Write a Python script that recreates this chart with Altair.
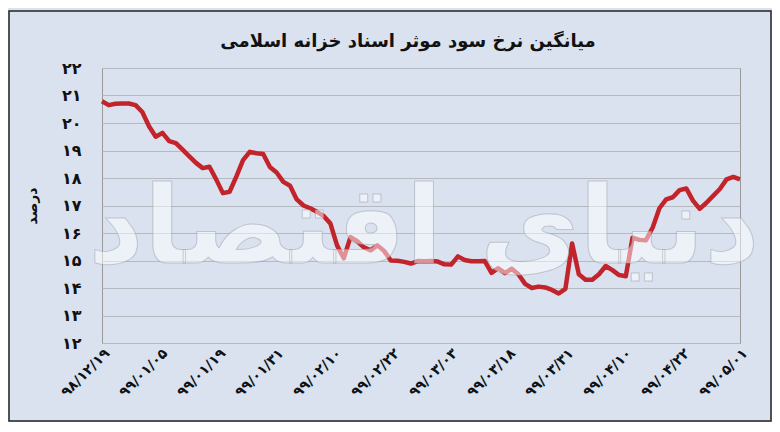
import altair as alt
import pandas as pd

title_text = "میانگین نرخ سود موثر اسناد خزانه اسلامی"
y_title = "درصد"
x_labels = ["۹۸/۱۲/۱۹", "۹۹/۰۱/۰۵", "۹۹/۰۱/۱۹", "۹۹/۰۱/۳۱", "۹۹/۰۲/۱۰", "۹۹/۰۲/۲۲",
            "۹۹/۰۳/۰۳", "۹۹/۰۳/۱۸", "۹۹/۰۳/۳۱", "۹۹/۰۴/۱۰", "۹۹/۰۴/۲۲", "۹۹/۰۵/۰۱"]
y_labels = ["۱۲", "۱۳", "۱۴", "۱۵", "۱۶", "۱۷", "۱۸", "۱۹", "۲۰", "۲۱", "۲۲"]
watermark = "دنیای اقتصاد"

rates = [
    20.79, 20.65, 20.70, 20.71, 20.71, 20.65, 20.40, 19.88, 19.50, 19.64,
    19.34, 19.27, 19.03, 18.79, 18.55, 18.36, 18.41, 17.95, 17.45, 17.50,
    18.05, 18.65, 18.95, 18.90, 18.87, 18.40, 18.20, 17.86, 17.72, 17.22,
    17.00, 16.90, 16.77, 16.62, 16.35, 15.55, 15.08, 15.85, 15.70, 15.48,
    15.37, 15.55, 15.35, 15.00, 14.99, 14.95, 14.89, 14.98, 14.97, 14.98,
    14.96, 14.86, 14.85, 15.15, 15.02, 14.97, 14.97, 14.98, 14.55, 14.72,
    14.54, 14.70, 14.50, 14.15, 14.00, 14.05, 14.02, 13.93, 13.80, 13.97,
    15.62, 14.50, 14.30, 14.30, 14.50, 14.80, 14.65, 14.47, 14.43, 15.83,
    15.75, 15.74, 16.20, 16.90, 17.22, 17.30, 17.56, 17.62, 17.18, 16.88,
    17.10, 17.35, 17.60, 17.95, 18.04, 17.95,
]

n = len(rates)
df = pd.DataFrame({"i": list(range(n)), "v": rates})
last = n - 1
step = last / (len(x_labels) - 1)
x_ticks = [k * step for k in range(len(x_labels))]
x_label_expr = "[" + ",".join("'%s'" % s for s in x_labels) + "][round(datum.value / %f)]" % step
y_label_expr = "[" + ",".join("'%s'" % s for s in y_labels) + "][round(datum.value) - 12]"

FONT = "DejaVu Sans"
W, H = 638, 275
PL, PT, PR, PB = 94, 60, 32, 79

x_enc = alt.X("i:Q", scale=alt.Scale(domain=[0, last], nice=False, zero=False),
              axis=alt.Axis(values=x_ticks, labelExpr=x_label_expr, labelAngle=-45,
                            labelAlign="right", labelBaseline="top", grid=False, ticks=False,
                            domain=False, title=None, labelFontSize=14, labelFontWeight="bold",
                            labelFont=FONT, labelColor="#111", labelPadding=3, labelBound=False,
                            labelOverlap=False, labelFlush=False))
y_enc = alt.Y("v:Q", scale=alt.Scale(domain=[12, 22], nice=False, zero=False),
              axis=alt.Axis(values=list(range(12, 23)), labelExpr=y_label_expr, grid=True,
                            gridColor="#b5b9c0", gridWidth=1, ticks=False, domain=False,
                            labelPadding=21, labelFontSize=16, labelFontWeight="bold",
                            labelFont=FONT, labelColor="#111", title=y_title, titleFont=FONT,
                            titleFontSize=14, titleFontWeight="bold", titleColor="#111",
                            titlePadding=22))

base = alt.Chart(df)

line = base.mark_line(color="#c3232a", strokeWidth=4.5, strokeJoin="round").encode(x=x_enc, y=y_enc)

wm = base.mark_text(text=watermark, font=FONT, fontSize=108, fontWeight="bold",
                    fill="#ffffff", fillOpacity=0.5, stroke="#9aa0a8", strokeWidth=1,
                    strokeOpacity=0.5, align="center", baseline="alphabetic").encode(
    x=alt.value(322), y=alt.value(195)).transform_filter("datum.i == 0")

frame = base.mark_rect(fill=None, stroke="#222", strokeWidth=1.5).encode(
    x=alt.value(-PL + 1), x2=alt.value(W + PR - 1),
    y=alt.value(-PT + 3), y2=alt.value(H + PB - 1)).transform_filter("datum.i == 0")

title = base.mark_text(text=title_text, font=FONT, fontSize=18, fontWeight="bold",
                       color="#111", align="center", baseline="middle").encode(
    x=alt.value(306), y=alt.value(-26)).transform_filter("datum.i == 0")

chart = alt.layer(line, wm, frame, title).properties(
    width=W, height=H,
    autosize=alt.AutoSizeParams(type="none"),
    padding={"left": PL, "top": PT, "right": PR, "bottom": PB},
    background="#dae2f0",
).configure_view(stroke="#9a9a9a", strokeWidth=1, fill="#dae2f0")

chart.save("out.html", embed_options={"renderer": "svg", "actions": False})
